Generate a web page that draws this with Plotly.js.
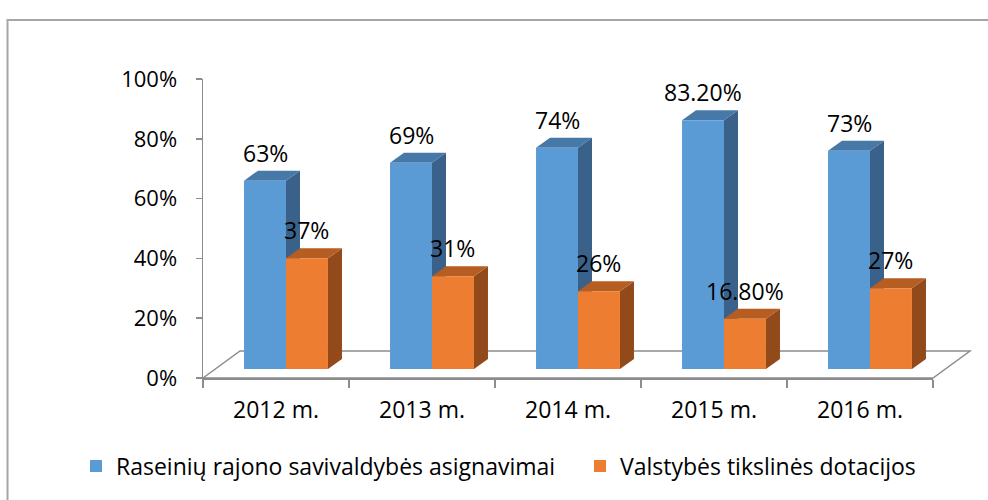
<!DOCTYPE html>
<html><head><meta charset="utf-8">
<script src="https://cdn.plot.ly/plotly-3.0.1.min.js"></script>
<style>html,body{margin:0;padding:0;background:#fff}#chart{width:988px;height:500px}</style>
</head><body><div id="chart"></div>
<script>
// ---- data ----
const categories = ['2012 m.', '2013 m.', '2014 m.', '2015 m.', '2016 m.'];
const seriesNames = ['Raseinių rajono savivaldybės asignavimai', 'Valstybės tikslinės dotacijos'];
const municipalValues = [0.63, 0.69, 0.74, 0.832, 0.73];
const municipalLabels = ['63%', '69%', '74%', '83.20%', '73%'];
const stateValues = [0.37, 0.31, 0.26, 0.168, 0.27];
const stateLabels = ['37%', '31%', '26%', '16.80%', '27%'];
const yTickValues = [0, 0.2, 0.4, 0.6, 0.8, 1];
const yTickLabels = ['0%', '20%', '40%', '60%', '80%', '100%'];

// ---- style / geometry ----
const W = 988, H = 500, ML = 203, MR = 55, MT = 79, MB = 122;
const PW = W - ML - MR, PH = H - MT - MB;
const barShiftX = 10, barShiftY = 9;     // projection of bar row into depth
const depthX = 14, depthY = 10;          // bar depth (px)
const floorX = 37, floorY = 27;          // floor depth (px)
const bargap = 0.425;
const catPx = PW / categories.length;
const bw = (1 - bargap) / 2;
const dx = depthX / catPx, dy = depthY / PH;
const FONT = '"Open Sans", Lato, sans-serif';
const colors = ['#5B9BD5', '#ED7D31'];
const topColors = ['#4678a8', '#b65d22'];
const sideColors = ['#39618a', '#934a1b'];
const gridGray = '#8c8c8c';
const legendLeftPx = [76, 580];
const legendMidPx = 466;

const idx = categories.map((_, i) => i);
const series = [
  {name: seriesNames[0], values: municipalValues, labels: municipalLabels},
  {name: seriesNames[1], values: stateValues, labels: stateLabels}
];

const traces = [
  // invisible carrier for the category axis
  {x: categories, y: municipalValues, type: 'scatter', mode: 'none', showlegend: false, hoverinfo: 'skip', xaxis: 'x', yaxis: 'y'}
];
series.forEach((s, k) => {
  traces.push({
    type: 'bar', name: s.name, x: idx, y: s.values, xaxis: 'x2', yaxis: 'y2',
    legend: k === 0 ? 'legend' : 'legend2',
    marker: {color: colors[k], line: {width: 0}}, hoverinfo: 'name+y'
  });
});

const shapes = [];
// frame
shapes.push({type: 'rect', xref: 'paper', yref: 'paper',
  x0: (7.5 - ML) / PW, x1: (W + 20 - ML) / PW, y0: (H - MB - (H + 30)) / PH, y1: (H - MB - 20) / PH,
  line: {color: '#a6a6a6', width: 2}, fillcolor: 'rgba(0,0,0,0)', layer: 'below'});
// floor
const fx = floorX / PW, fy = floorY / PH;
shapes.push({type: 'path', xref: 'paper', yref: 'paper', layer: 'below',
  path: `M0,0 L${fx},${fy} L${1 + fx},${fy} L1,0 Z`,
  fillcolor: '#ffffff', line: {color: gridGray, width: 1.5}});
// 3D faces for bars
const annotations = [];
idx.forEach(i => {
  series.forEach((s, k) => {
    const v = s.values[i];
    const xl = i + (k === 0 ? -bw : 0), xr = xl + bw;
    shapes.push({type: 'path', xref: 'x2', yref: 'y2', layer: 'below',
      path: `M${xr},0 L${xr + dx},${dy} L${xr + dx},${v + dy} L${xr},${v} Z`,
      fillcolor: sideColors[k], line: {width: 0}});
    shapes.push({type: 'path', xref: 'x2', yref: 'y2', layer: 'below',
      path: `M${xl},${v} L${xl + dx},${v + dy} L${xr + dx},${v + dy} L${xr},${v} Z`,
      fillcolor: topColors[k], line: {width: 0}});
    annotations.push({xref: 'x2', yref: 'y2', x: xl + bw / 2, y: v, yshift: 28,
      xanchor: 'center', yanchor: 'middle', showarrow: false, text: s.labels[i],
      font: {family: FONT, size: 23, color: '#000'}});
  });
});

const legendBase = {orientation: 'h', xanchor: 'left', y: (H - MB - legendMidPx) / PH, yanchor: 'middle',
  font: {family: FONT, size: 23, color: '#000'}, itemwidth: 30, bgcolor: 'rgba(0,0,0,0)', borderwidth: 0};

const layout = {
  width: W, height: H,
  margin: {l: ML, r: MR, t: MT, b: MB, pad: 0},
  paper_bgcolor: '#ffffff', plot_bgcolor: 'rgba(0,0,0,0)',
  font: {family: FONT, size: 22, color: '#000'},
  barmode: 'group', bargap: bargap, bargroupgap: 0,
  showlegend: true,
  legend: Object.assign({}, legendBase, {x: (legendLeftPx[0] - ML) / PW}),
  legend2: Object.assign({}, legendBase, {x: (legendLeftPx[1] - ML) / PW}),
  xaxis: {type: 'category', categoryorder: 'array', categoryarray: categories, range: [-0.5, categories.length - 0.5],
    tickson: 'boundaries', ticks: 'outside', ticklen: 8, tickwidth: 1.5, tickcolor: gridGray,
    showline: true, linecolor: gridGray, linewidth: 1.5, showgrid: false, zeroline: false,
    tickfont: {family: FONT, size: 23, color: '#000'}, ticklabelstandoff: 11, fixedrange: true},
  yaxis: {range: [0, 1], tickvals: yTickValues, ticktext: yTickLabels, ticks: 'outside', ticklen: 6,
    tickwidth: 1.5, tickcolor: gridGray, showline: true, linecolor: gridGray, linewidth: 1.5,
    showgrid: false, zeroline: false, tickfont: {family: FONT, size: 22, color: '#000'},
    ticklabelstandoff: 14, fixedrange: true},
  xaxis2: {anchor: 'y2', domain: [barShiftX / PW, 1], range: [-0.5, -0.5 + (PW - barShiftX) / catPx],
    visible: false, fixedrange: true},
  yaxis2: {anchor: 'x2', domain: [barShiftY / PH, 1], range: [0, (PH - barShiftY) / PH],
    visible: false, fixedrange: true},
  shapes: shapes,
  annotations: annotations
};

Plotly.newPlot('chart', traces, layout, {displayModeBar: false, staticPlot: true});
</script>
</body></html>
